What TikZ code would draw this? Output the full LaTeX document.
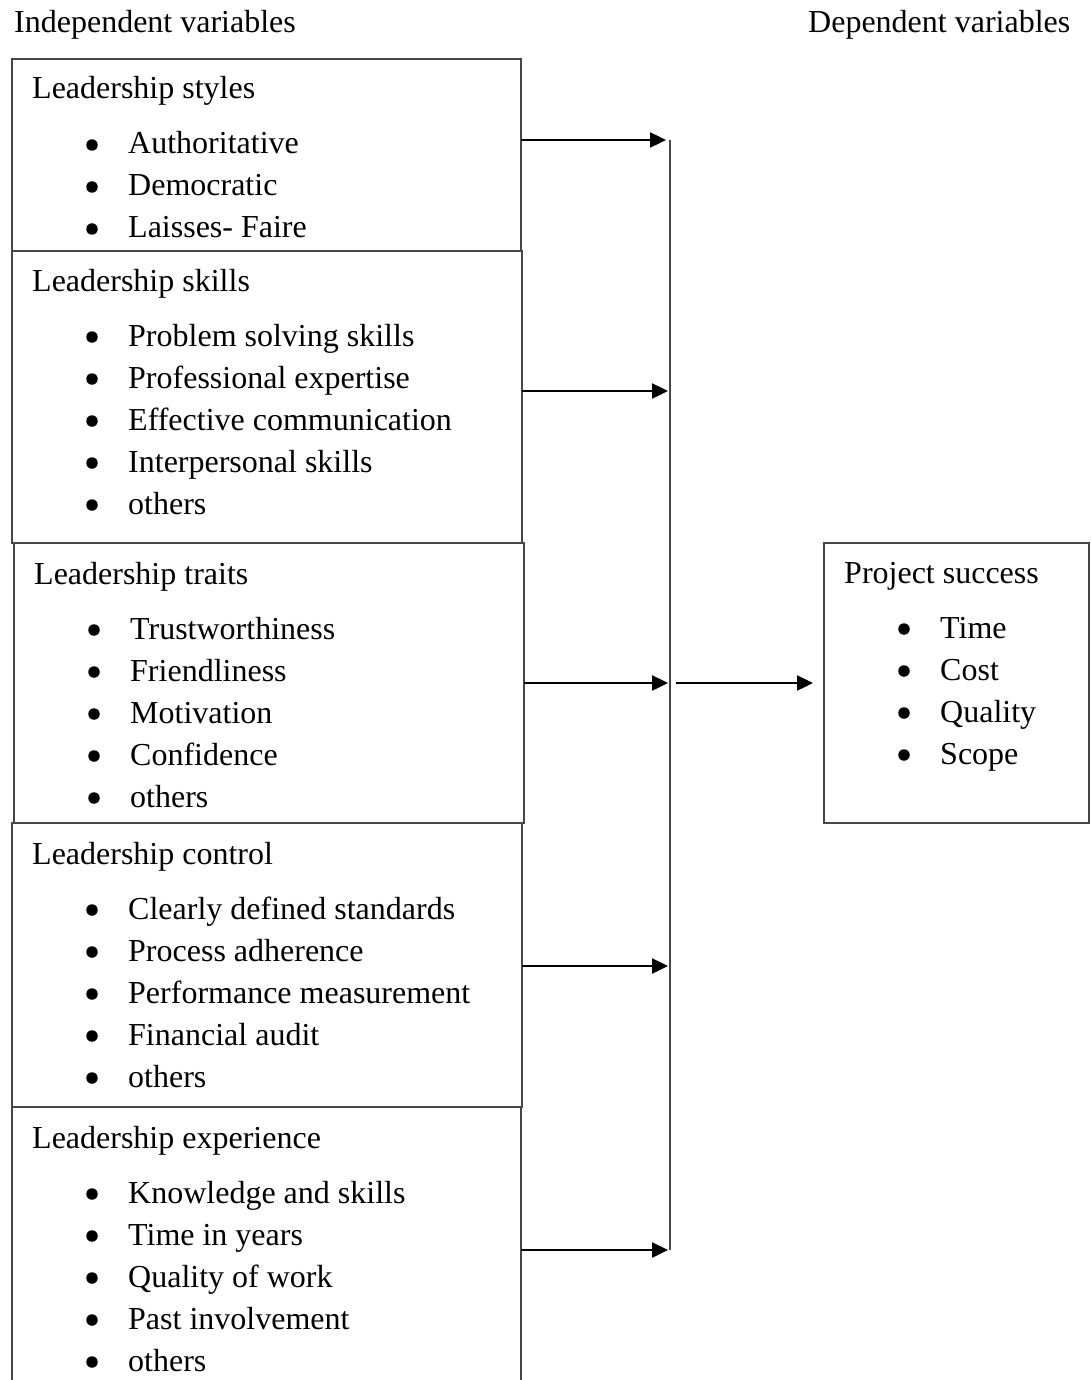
\documentclass[tikz,border=0pt]{standalone}
\usepackage{fontspec}
\setmainfont{Liberation Serif}
\usetikzlibrary{arrows.meta}
\definecolor{boxgray}{RGB}{70,70,70}
\begin{document}
\begin{tikzpicture}[x=1pt,y=-1pt,
  box/.style={draw=boxgray, line width=1.3pt, anchor=north west, inner sep=0pt, outer sep=0pt},
  txt/.style={anchor=base west, inner sep=0pt, font=\fontsize{32}{38}\selectfont},
  bul/.style={circle, fill=black, inner sep=0pt, minimum size=11.5pt},
  link/.style={line width=2.4pt, -{Triangle[length=16pt,width=15pt]}},
  busline/.style={draw=boxgray, line width=1.3pt}]
\useasboundingbox (0,0) rectangle (1090,1380);
\clip (0,0) rectangle (1090,1380);
\fill[white] (0,0) rectangle (1090,1380);

% headers
\node[txt] (hind) at (14,33) {Independent variables};
\node[txt] (hdep) at (808,33) {Dependent variables};

% boxes
\node[box, minimum width=509pt, minimum height=192pt] (b1) at (12,59) {};
\node[box, minimum width=510pt, minimum height=292pt] (b2) at (12,251) {};
\node[box, minimum width=510pt, minimum height=280pt] (b3) at (14,543) {};
\node[box, minimum width=510pt, minimum height=284pt] (b4) at (12,823) {};
\node[box, minimum width=509pt, minimum height=290pt] (b5) at (12,1107) {};
\node[box, minimum width=265pt, minimum height=280pt] (ps) at (824,543) {};

% box 1
\node[txt] (b1h) at (32,99) {Leadership styles};
\foreach [count=\k] \t in {Authoritative, Democratic, Laisses- Faire} {
  \node[bul] (b1d\k) at (92,{145+42*(\k-1)}) {};
  \node[txt] (b1t\k) at (128,{154+42*(\k-1)}) {\t};
}
% box 2
\node[txt] (b2h) at (32,291) {Leadership skills};
\foreach [count=\k] \t in {Problem solving skills, Professional expertise, Effective communication, Interpersonal skills, others} {
  \node[bul] (b2d\k) at (92,{337+42*(\k-1)}) {};
  \node[txt] (b2t\k) at (128,{346+42*(\k-1)}) {\t};
}
% box 3
\node[txt] (b3h) at (34,584) {Leadership traits};
\foreach [count=\k] \t in {Trustworthiness, Friendliness, Motivation, Confidence, others} {
  \node[bul] (b3d\k) at (94,{630+42*(\k-1)}) {};
  \node[txt] (b3t\k) at (130,{639+42*(\k-1)}) {\t};
}
% box 4
\node[txt] (b4h) at (32,864) {Leadership control};
\foreach [count=\k] \t in {Clearly defined standards, Process adherence, Performance measurement, Financial audit, others} {
  \node[bul] (b4d\k) at (92,{910+42*(\k-1)}) {};
  \node[txt] (b4t\k) at (128,{919+42*(\k-1)}) {\t};
}
% box 5
\node[txt] (b5h) at (32,1148) {Leadership experience};
\foreach [count=\k] \t in {Knowledge and skills, Time in years, Quality of work, Past involvement, others} {
  \node[bul] (b5d\k) at (92,{1194+42*(\k-1)}) {};
  \node[txt] (b5t\k) at (128,{1203+42*(\k-1)}) {\t};
}
% project success
\node[txt] (psh) at (844,583) {Project success};
\foreach [count=\k] \t in {Time, Cost, Quality, Scope} {
  \node[bul] (psd\k) at (904,{629+42*(\k-1)}) {};
  \node[txt] (pst\k) at (940,{638+42*(\k-1)}) {\t};
}

% bus line and arrows
\coordinate (bt) at (670,140);
\coordinate (bb) at (670,1250);
\draw[busline] (bt) -- (bb);
\coordinate (a1) at (666,140);
\coordinate (a2) at (668,391);
\coordinate (a3) at (668,683);
\coordinate (a4) at (668,966);
\coordinate (a5) at (668,1250);
\draw[link] (b1.east |- a1) -- (a1);
\draw[link] (b2.east |- a2) -- (a2);
\draw[link] (b3.east |- a3) -- (a3);
\draw[link] (b4.east |- a4) -- (a4);
\draw[link] (b5.east |- a5) -- (a5);
\coordinate (bm) at (676,683);
\draw[link, shorten >=11pt] (bm) -- (ps.west |- bm);
\end{tikzpicture}
\end{document}
